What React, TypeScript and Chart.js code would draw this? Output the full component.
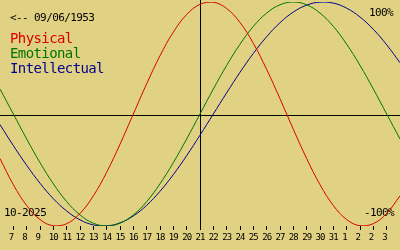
import React, { useEffect, useRef } from "react";
import { Chart, registerables } from "chart.js";

Chart.register(...registerables);

// Day index 0..30 (Oct 6 .. Nov 5, 2025); "today" is index 15 (Oct 21)
const days = [
  0, 1, 2, 3, 4, 5, 6, 7, 8, 9, 10, 11, 12, 13, 14, 15, 16, 17, 18, 19, 20,
  21, 22, 23, 24, 25, 26, 27, 28, 29, 30,
];
const todayIndex = 15;

// Tick labels for day indices 1..29
const tickLabels = [
  "7", "8", "9", "10", "11", "12", "13", "14", "15", "16", "17", "18", "19",
  "20", "21", "22", "23", "24", "25", "26", "27", "28", "29", "30", "31",
  "1", "2", "2", "3",
];

const physical = [
  -0.398, -0.631, -0.817, -0.942, -0.998, -0.979, -0.888, -0.731, -0.52,
  -0.27, 0, 0.27, 0.52, 0.731, 0.888, 0.979, 0.998, 0.942, 0.817, 0.631,
  0.398, 0.136, -0.136, -0.398, -0.631, -0.817, -0.942, -0.998, -0.979,
  -0.888, -0.731,
];
const emotional = [
  0.223, 0, -0.223, -0.434, -0.623, -0.782, -0.901, -0.975, -1, -0.975,
  -0.901, -0.782, -0.623, -0.434, -0.223, 0, 0.223, 0.434, 0.623, 0.782,
  0.901, 0.975, 1, 0.975, 0.901, 0.782, 0.623, 0.434, 0.223, 0, -0.223,
];
const intellectual = [
  -0.095, -0.282, -0.458, -0.618, -0.756, -0.866, -0.945, -0.99, -0.999,
  -0.972, -0.91, -0.815, -0.69, -0.541, -0.372, -0.189, 0, 0.189, 0.372,
  0.541, 0.69, 0.815, 0.91, 0.972, 0.999, 0.99, 0.945, 0.866, 0.756, 0.618,
  0.458,
];

const seriesNames = ["Physical", "Emotional", "Intellectual"];
const seriesColors = ["#d80000", "#007400", "#00008c"];
const birthText = "<-- 09/06/1953";
const monthText = "10-2025";
const topText = "100%";
const bottomText = "-100%";

const MONO = '"DejaVu Sans Mono", monospace';

const overlayPlugin = {
  id: "overlay",
  beforeDraw(chart: any) {
    chart.ctx.letterSpacing = "-0.9px";
  },
  beforeDatasetsDraw(chart: any) {
    const { ctx, chartArea, scales } = chart;
    const xs = scales.x;
    const ys = scales.y;
    ctx.save();
    // axes cross lines
    ctx.fillStyle = "#000";
    const y0 = Math.floor(ys.getPixelForValue(0)) + 1;
    ctx.fillRect(0, y0, chart.width, 1);
    const vx = Math.round(xs.getPixelForValue(todayIndex));
    ctx.fillRect(vx, 0, 1, chartArea.bottom + 2);

    const text = (
      s: string,
      x: number,
      y: number,
      size: number,
      spacing: number,
      color: string,
      align: CanvasTextAlign
    ) => {
      ctx.font = `${size}px ${MONO}`;
      (ctx as any).letterSpacing = `${spacing}px`;
      ctx.fillStyle = color;
      ctx.textAlign = align;
      ctx.textBaseline = "alphabetic";
      ctx.fillText(s, x, y);
    };

    text(birthText, 10, 21, 11, -0.6, "#000", "left");
    seriesNames.forEach((n, i) => {
      text(n, 10, 43 + i * 15, 14, -0.6, seriesColors[i], "left");
    });
    text(topText, 393, 16, 11, -0.6, "#000", "right");
    text(bottomText, 394, 216, 11, -0.6, "#000", "right");
    text(monthText, 4, 216, 11, -0.6, "#000", "left");
    ctx.restore();
  },
  afterDraw(chart: any) {
    chart.ctx.letterSpacing = "0px";
  },
};

export default function App() {
  const ref = useRef<HTMLCanvasElement | null>(null);

  useEffect(() => {
    if (!ref.current) return;
    const mk = (vals: number[]) => vals.map((v, i) => ({ x: days[i], y: v }));
    const chart = new Chart(ref.current, {
      type: "line",
      data: {
        datasets: [physical, emotional, intellectual].map((vals, i) => ({
          label: seriesNames[i],
          data: mk(vals),
          borderColor: seriesColors[i],
          borderWidth: 1,
          pointRadius: 0,
          tension: 0.4,
          fill: false,
        })),
      },
      options: {
        animation: false,
        responsive: false,
        maintainAspectRatio: false,
        events: [],
        layout: { padding: { top: 2, left: 0, right: 0, bottom: 0 } },
        plugins: {
          legend: { display: false },
          tooltip: { enabled: false },
          title: { display: false },
        },
        scales: {
          x: {
            type: "linear",
            min: 0,
            max: 30,
            offset: false,
            afterBuildTicks: (s: any) => {
              s.ticks = tickLabels.map((_, i) => ({ value: i + 1 }));
            },
            afterFit: (s: any) => {
              s.height = 24;
            },
            border: { display: false },
            grid: {
              drawOnChartArea: false,
              drawTicks: true,
              tickLength: 4,
              color: "#000",
              lineWidth: 1,
            },
            ticks: {
              autoSkip: false,
              maxRotation: 0,
              minRotation: 0,
              padding: 2,
              color: "#000",
              font: { family: MONO, size: 9 },
              callback: (v: any) => {
                const l = tickLabels[Math.round(Number(v)) - 1] ?? "";
                return l.length < 2 ? l + " " : l;
              },
            },
          },
          y: { display: false, min: -1, max: 1 },
        },
      },
      plugins: [overlayPlugin],
    } as any);
    return () => chart.destroy();
  }, []);

  return (
    <div
      style={{
        position: "fixed",
        left: 0,
        top: 0,
        width: 400,
        height: 250,
        background: "#e0d282",
      }}
    >
      <canvas ref={ref} width={400} height={250} style={{ display: "block" }} />
    </div>
  );
}
